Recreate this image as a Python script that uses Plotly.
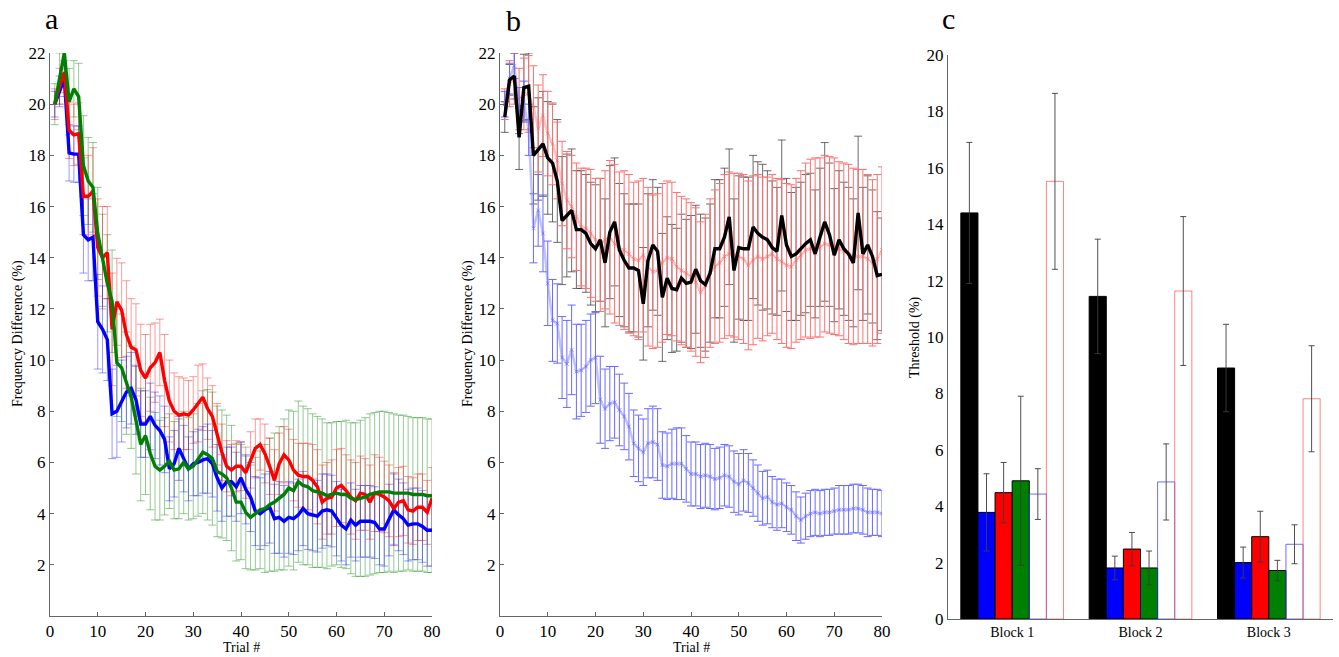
import plotly.graph_objects as go

W, H = 1339, 657

trials = list(range(1, 81))

# ---------------- Panel a ----------------
a_red = [20.0, 20.7, 21.25, 18.98, 18.8, 18.85, 16.4, 16.4, 16.6, 14.4,
         14.0, 14.2, 11.2, 12.28, 11.95, 11.0, 10.5, 10.4, 9.6, 9.3,
         9.7, 9.9, 10.3, 9.2, 8.4, 8.0, 7.85, 7.9, 7.85, 8.05,
         8.3, 8.55, 8.1, 7.8, 7.1, 6.4, 5.85, 5.7, 5.85, 5.85,
         5.6, 6.1, 6.55, 6.7, 6.35, 5.85, 5.3, 5.95, 6.3, 6.1,
         5.7, 5.5, 5.45, 5.45, 5.3, 5.05, 4.45, 4.6, 4.65, 5.0,
         5.1, 4.9, 4.65, 4.5, 4.8, 4.75, 4.45, 4.8, 4.75, 4.65,
         4.5, 4.2, 4.45, 4.5, 4.15, 4.1, 4.25, 4.25, 4.05, 4.6]
a_red_err = [0.6, 0.7, 0.8, 1.1, 1.2, 1.2, 1.5, 1.6, 1.7, 1.9,
             2.0, 1.8, 2.2, 1.7, 1.85, 2.1, 1.9, 1.8, 1.8, 1.7,
             1.7, 1.55, 1.3, 1.8, 1.6, 1.5, 1.5, 1.4, 1.35, 1.3,
             1.5, 1.3, 1.2, 1.2, 1.2, 1.1, 1.0, 1.0, 1.0, 0.95,
             1.0, 1.1, 1.15, 1.0, 1.15, 1.1, 1.2, 1.2, 1.1, 1.2,
             1.2, 1.25, 1.3, 1.3, 1.4, 1.45, 1.45, 1.4, 1.45, 1.5,
             1.45, 1.4, 1.45, 1.5, 1.45, 1.4, 1.45, 1.5, 1.45, 1.4,
             1.4, 1.4, 1.35, 1.35, 1.3, 1.3, 1.3, 1.3, 1.25, 1.2]

a_blue = [20.0, 20.5, 21.0, 18.1, 18.05, 18.05, 14.9, 14.7, 14.8, 11.5,
          11.2, 10.8, 7.9, 8.0, 8.4, 8.75, 8.9, 8.45, 7.5, 7.5,
          7.8, 7.45, 7.25, 6.9, 5.75, 5.95, 6.55, 6.15, 5.75, 5.95,
          6.0, 6.1, 6.15, 5.95, 5.4, 5.0, 5.25, 5.25, 5.05, 5.4,
          4.95, 4.65, 4.1, 4.0, 4.15, 4.25, 3.8, 3.85, 3.7, 3.85,
          3.8, 3.95, 4.2, 4.0, 3.95, 3.9, 4.1, 4.15, 4.1, 3.8,
          3.55, 3.4, 3.75, 3.55, 3.7, 3.7, 3.7, 3.65, 3.4, 3.4,
          3.75, 4.15, 3.95, 3.8, 3.55, 3.6, 3.6, 3.5, 3.35, 3.35]
a_blue_err = [0.5, 0.6, 0.7, 1.1, 1.1, 1.1, 1.5, 1.6, 1.7, 1.85,
              1.7, 1.6, 1.75, 1.8, 1.6, 1.4, 1.4, 1.35, 1.3, 1.3,
              1.3, 1.3, 1.35, 1.3, 1.25, 1.3, 1.25, 1.3, 1.25, 1.25,
              1.3, 1.3, 1.35, 1.3, 1.3, 1.3, 1.35, 1.35, 1.35, 1.4,
              1.35, 1.35, 1.35, 1.4, 1.4, 1.4, 1.35, 1.4, 1.4, 1.4,
              1.4, 1.4, 1.45, 1.4, 1.4, 1.4, 1.45, 1.4, 1.4, 1.45,
              1.4, 1.4, 1.45, 1.4, 1.4, 1.4, 1.4, 1.4, 1.4, 1.45,
              1.4, 1.4, 1.4, 1.4, 1.4, 1.4, 1.4, 1.4, 1.4, 1.4]

a_green = [20.0, 21.0, 22.0, 20.1, 20.6, 20.3, 17.6, 17.0, 16.75, 14.95,
           13.9, 13.0, 12.3, 9.9, 9.7, 9.1, 8.55, 7.65, 6.7, 7.05,
           6.35, 5.85, 5.7, 5.85, 6.05, 5.7, 5.75, 6.0, 5.75, 5.85,
           6.1, 6.4, 6.3, 6.15, 5.65, 5.55, 5.4, 5.0, 4.45, 4.45,
           4.05, 3.85, 4.0, 4.15, 4.2, 4.35, 4.45, 4.6, 4.75, 5.0,
           4.9, 5.25, 5.1, 5.05, 4.9, 4.85, 4.8, 4.7, 4.75, 4.8,
           4.75, 4.75, 4.6, 4.55, 4.6, 4.65, 4.75, 4.8, 4.85, 4.85,
           4.85, 4.8, 4.8, 4.8, 4.8, 4.75, 4.75, 4.75, 4.7, 4.7]
a_green_err = [0.8, 1.0, 1.2, 1.3, 1.1, 1.3, 1.95, 1.7, 1.75, 1.8,
               1.8, 1.9, 2.0, 2.1, 2.1, 2.0, 2.0, 2.1, 2.2, 2.3,
               2.2, 2.1, 1.95, 1.9, 1.85, 1.9, 1.95, 2.0, 2.0, 2.05,
               2.2, 2.4, 2.55, 2.6, 2.55, 2.5, 2.45, 2.45, 2.3, 2.25,
               2.2, 2.05, 2.2, 2.3, 2.5, 2.6, 2.7, 2.8, 2.95, 3.05,
               3.1, 3.15, 3.1, 3.05, 3.0, 2.95, 2.9, 2.85, 2.8, 2.8,
               2.85, 2.9, 2.95, 3.0, 3.05, 3.1, 3.15, 3.15, 3.15, 3.15,
               3.1, 3.1, 3.05, 3.05, 3.0, 3.0, 3.0, 3.0, 3.0, 3.0]

# ---------------- Panel b ----------------
b_black = [19.5, 20.95, 21.1, 18.7, 20.65, 20.7, 18.0, 18.25, 18.45, 17.9,
           17.7, 17.0, 15.45, 15.65, 15.85, 15.1, 15.1, 14.95, 14.55, 14.35,
           14.7, 13.8, 15.0, 15.4, 14.3, 13.9, 13.6, 13.6, 13.5, 12.2,
           13.9, 14.5, 14.25, 12.45, 13.2, 12.8, 12.75, 13.2, 13.0, 13.05,
           13.55, 13.1, 12.95, 13.4, 14.35, 14.35, 14.8, 15.6, 13.5, 14.4,
           14.35, 14.35, 15.2, 14.95, 14.8, 14.7, 14.4, 14.25, 15.65, 14.5,
           14.05, 14.15, 14.35, 14.55, 14.7, 14.15, 14.8, 15.4, 14.9, 14.1,
           14.7, 14.35, 14.15, 13.8, 15.75, 14.15, 14.5, 14.05, 13.3, 13.35]
b_black_err = [0.6, 0.6, 0.9, 1.25, 1.3, 1.3, 1.9, 2.0, 2.05, 2.2,
               2.3, 2.4, 2.5, 2.4, 2.4, 2.3, 2.3, 2.3, 2.4, 2.5,
               2.4, 2.5, 2.6, 2.5, 2.6, 2.6, 2.5, 2.5, 2.6, 2.2,
               2.6, 2.55, 2.5, 2.5, 2.4, 2.5, 2.4, 2.5, 2.5, 2.6,
               2.5, 2.6, 2.6, 2.7, 2.7, 2.7, 2.7, 2.65, 2.8, 2.8,
               2.8, 2.8, 2.8, 2.8, 2.85, 2.7, 2.6, 2.5, 2.95, 2.6,
               2.5, 2.6, 2.6, 2.7, 2.6, 2.5, 2.7, 3.1, 2.8, 2.6,
               2.7, 2.6, 2.6, 2.5, 3.0, 2.6, 2.7, 2.6, 2.5, 2.2]

b_red = [20.0, 20.8, 21.0, 20.2, 20.4, 20.4, 19.9, 19.05, 19.55, 18.85,
         18.45, 17.8, 16.9, 16.25, 16.0, 15.6, 15.2, 15.15, 14.95, 14.7,
         14.5, 14.7, 14.8, 14.55, 14.35, 14.3, 14.15, 13.95, 13.9, 14.1,
         13.65, 13.45, 13.5, 13.8, 14.0, 13.95, 13.65, 13.5, 13.4, 13.25,
         13.05, 12.65, 12.9, 13.4, 13.65, 13.8, 14.05, 14.15, 14.1, 14.05,
         13.95, 13.7, 13.9, 14.05, 13.95, 14.05, 14.15, 13.95, 13.85, 13.7,
         13.65, 13.9, 14.1, 14.3, 14.35, 14.4, 14.4, 14.55, 14.5, 14.45,
         14.35, 14.25, 14.15, 14.05, 14.05, 14.05, 13.95, 13.8, 13.95, 14.3]
b_red_err = [0.6, 0.9, 1.0, 1.2, 1.4, 1.5, 1.6, 1.7, 1.6, 1.65,
             1.6, 1.5, 1.65, 1.9, 2.0, 2.1, 2.3, 2.35, 2.5, 2.4,
             2.6, 2.7, 3.0, 3.1, 3.0, 3.1, 3.1, 3.0, 3.1, 3.0,
             3.1, 3.0, 3.0, 3.1, 3.0, 3.0, 2.9, 2.9, 2.9, 2.9,
             2.9, 2.75, 2.8, 2.9, 3.0, 3.1, 3.2, 3.2, 3.2, 3.25,
             3.3, 3.3, 3.3, 3.2, 3.2, 3.1, 3.1, 3.15, 3.2, 3.2,
             3.2, 3.2, 3.3, 3.4, 3.5, 3.5, 3.5, 3.45, 3.45, 3.45,
             3.4, 3.45, 3.5, 3.45, 3.4, 3.4, 3.3, 3.25, 3.3, 3.25]

b_blue = [20.0, 21.0, 21.5, 19.75, 20.1, 19.0, 15.15, 15.85, 14.95, 13.0,
          11.55, 11.43, 10.1, 9.85, 10.4, 9.55, 9.6, 9.75, 10.0, 10.1,
          8.45, 8.1, 8.3, 8.35, 8.05, 7.8, 7.4, 6.75, 6.55, 6.4,
          6.75, 6.8, 6.7, 5.9, 5.85, 5.95, 5.95, 5.95, 5.75, 5.55,
          5.55, 5.45, 5.5, 5.45, 5.35, 5.4, 5.5, 5.45, 5.25, 5.15,
          5.3, 5.2, 5.0, 4.8, 4.6, 4.65, 4.45, 4.35, 4.4, 4.25,
          4.15, 3.9, 3.75, 3.9, 4.0, 4.05, 4.0, 4.05, 4.05, 4.1,
          4.15, 4.15, 4.15, 4.2, 4.2, 4.15, 4.05, 4.05, 4.05, 4.0]
b_blue_err = [0.5, 0.6, 0.5, 0.9, 0.8, 1.0, 1.35, 1.4, 1.5, 1.65,
              1.6, 1.55, 1.6, 1.7, 1.75, 1.85, 1.8, 1.8, 1.8, 1.8,
              1.7, 1.55, 1.45, 1.4, 1.4, 1.3, 1.3, 1.3, 1.3, 1.3,
              1.35, 1.4, 1.4, 1.3, 1.3, 1.35, 1.4, 1.4, 1.3, 1.25,
              1.25, 1.25, 1.25, 1.25, 1.2, 1.2, 1.2, 1.2, 1.2, 1.2,
              1.2, 1.15, 1.1, 1.1, 1.05, 1.05, 1.0, 1.0, 0.95, 0.95,
              0.95, 0.95, 0.9, 0.9, 0.9, 0.9, 0.9, 0.9, 0.9, 0.9,
              0.95, 0.95, 0.95, 0.95, 0.95, 0.95, 0.95, 0.9, 0.9, 0.9]

# ---------------- Panel c ----------------
blocks = ["Block 1", "Block 2", "Block 3"]
c_black = [14.4, 11.44, 8.9]
c_black_err = [2.5, 2.03, 1.55]
c_blue = [3.78, 1.81, 2.0]
c_blue_err = [1.37, 0.42, 0.55]
c_red = [4.48, 2.48, 2.92]
c_red_err = [1.07, 0.59, 0.9]
c_green = [4.9, 1.81, 1.72]
c_green_err = [3.0, 0.6, 0.36]
c_blue_open = [4.43, 4.86, 2.65]
c_blue_open_err = [0.9, 1.35, 0.69]
c_red_open = [15.52, 11.63, 7.81]
c_red_open_err = [3.12, 2.64, 1.88]

FONT = "Liberation Serif"
AXC = "#666666"

fig = go.Figure()


def err_trace(y, e, color, xa, ya, w=4):
    return go.Scatter(x=trials, y=y, mode="markers",
                      marker=dict(size=1, color="rgba(0,0,0,0)"),
                      error_y=dict(type="data", array=e, visible=True,
                                   color=color, thickness=1, width=w),
                      xaxis=xa, yaxis=ya, showlegend=False, hoverinfo="skip")


def line_trace(y, color, xa, ya, width=3.4, markers=False, mcolor=None):
    kw = dict(x=trials, y=y, xaxis=xa, yaxis=ya, showlegend=False,
              line=dict(color=color, width=width))
    if markers:
        kw["mode"] = "lines+markers"
        kw["marker"] = dict(symbol="x-thin", size=4,
                            line=dict(color=mcolor, width=1), color=mcolor)
    else:
        kw["mode"] = "lines"
    return go.Scatter(**kw)


# panel a
fig.add_trace(err_trace(a_green, a_green_err, "rgba(0,128,0,0.42)", "x", "y"))
fig.add_trace(err_trace(a_red, a_red_err, "rgba(255,0,0,0.4)", "x", "y"))
fig.add_trace(err_trace(a_blue, a_blue_err, "rgba(0,0,255,0.4)", "x", "y"))
fig.add_trace(line_trace(a_blue, "#0000ff", "x", "y"))
fig.add_trace(line_trace(a_red, "#ff0000", "x", "y"))
fig.add_trace(line_trace(a_green, "#008000", "x", "y"))

# panel b
fig.add_trace(err_trace(b_black, b_black_err, "rgba(70,70,70,0.8)", "x2", "y2"))
fig.add_trace(err_trace(b_red, b_red_err, "#ff7070", "x2", "y2"))
fig.add_trace(line_trace(b_red, "rgba(255,120,120,0.45)", "x2", "y2", width=2.5,
                         markers=True, mcolor="rgba(255,90,90,0.5)"))
fig.add_trace(err_trace(b_blue, b_blue_err, "#6a6aff", "x2", "y2"))
fig.add_trace(line_trace(b_blue, "rgba(120,120,255,0.45)", "x2", "y2", width=2.5,
                         markers=True, mcolor="rgba(90,90,255,0.5)"))
fig.add_trace(line_trace(b_black, "#000000", "x2", "y2", width=3.4))

# panel c
ERRC = "rgba(60,60,60,0.9)"


def bar(vals, errs, fill, outline):
    return go.Bar(x=blocks, y=vals, xaxis="x3", yaxis="y3", showlegend=False,
                  marker=dict(color=fill, line=dict(color=outline, width=1)),
                  error_y=dict(type="data", array=errs, visible=True,
                               color=ERRC, thickness=1, width=3))


fig.add_trace(bar(c_black, c_black_err, "#000000", "#000000"))
fig.add_trace(bar(c_blue, c_blue_err, "#0000ff", "#000000"))
fig.add_trace(bar(c_red, c_red_err, "#ff0000", "#000000"))
fig.add_trace(bar(c_green, c_green_err, "#008000", "#000000"))
fig.add_trace(bar(c_blue_open, c_blue_open_err, "rgba(255,255,255,0)", "rgba(60,60,255,0.75)"))
fig.add_trace(bar(c_red_open, c_red_open_err, "rgba(255,255,255,0)", "rgba(255,80,80,0.7)"))


def px_x(px):
    return px / W


def px_y(py):
    return 1 - py / H


tickfont = dict(family=FONT, size=17, color="#000000")
common_lin = dict(showline=True, linecolor=AXC, linewidth=1, ticks="inside",
                  ticklen=4, tickcolor=AXC, showgrid=False, zeroline=False,
                  tickfont=tickfont, automargin=False)

yd_ab = [px_y(616), px_y(53)]
fig.update_layout(
    width=W, height=H,
    margin=dict(l=0, r=0, t=0, b=0),
    paper_bgcolor="white", plot_bgcolor="white",
    font=dict(family=FONT, color="#000000"),
    barmode="group", bargap=0.2, bargroupgap=0,
    xaxis=dict(domain=[px_x(50), px_x(432)], range=[0, 80],
               tickvals=[0, 10, 20, 30, 40, 50, 60, 70, 80], anchor="y", **common_lin),
    yaxis=dict(domain=yd_ab, range=[0, 22],
               tickvals=[2, 4, 6, 8, 10, 12, 14, 16, 18, 20, 22], anchor="x", **common_lin),
    xaxis2=dict(domain=[px_x(500), px_x(882)], range=[0, 80],
                tickvals=[0, 10, 20, 30, 40, 50, 60, 70, 80], anchor="y2", **common_lin),
    yaxis2=dict(domain=yd_ab, range=[0, 22],
                tickvals=[2, 4, 6, 8, 10, 12, 14, 16, 18, 20, 22], anchor="x2", **common_lin),
    xaxis3=dict(domain=[px_x(948), px_x(1333)], range=[-0.5, 2.5], anchor="y3",
                showline=True, linecolor=AXC, linewidth=1, ticks="", showgrid=False,
                zeroline=False, tickfont=dict(family=FONT, size=14, color="#000000"),
                automargin=False),
    yaxis3=dict(domain=[px_y(619), px_y(55)], range=[0, 20], anchor="x3",
                tickvals=[0, 2, 4, 6, 8, 10, 12, 14, 16, 18, 20],
                showline=True, linecolor=AXC, linewidth=1, ticks="", showgrid=False,
                zeroline=False, tickfont=tickfont, automargin=False),
)

ann = []
for txt, x, y in [("a", 51, 18), ("b", 513, 20), ("c", 948, 18)]:
    ann.append(dict(text=txt, x=px_x(x), y=px_y(y), xref="paper", yref="paper",
                    showarrow=False, xanchor="center", yanchor="middle",
                    font=dict(family=FONT, size=30, color="#000000")))
for txt, x, y in [("Frequency Difference (%)", 18, 334), ("Frequency Difference (%)", 468, 334),
                  ("Threshold (%)", 915, 337)]:
    ann.append(dict(text=txt, x=px_x(x), y=px_y(y), xref="paper", yref="paper",
                    showarrow=False, xanchor="center", yanchor="middle", textangle=-90,
                    font=dict(family=FONT, size=14, color="#000000")))
for x in (241, 691):
    ann.append(dict(text="Trial #", x=px_x(x), y=px_y(647), xref="paper", yref="paper",
                    showarrow=False, xanchor="center", yanchor="middle",
                    font=dict(family=FONT, size=14, color="#000000")))
fig.update_layout(annotations=ann)

fig.write_html("out.html", config={"displayModeBar": False},
               post_script="document.body.style.margin='0px';document.body.style.overflow='hidden';")
